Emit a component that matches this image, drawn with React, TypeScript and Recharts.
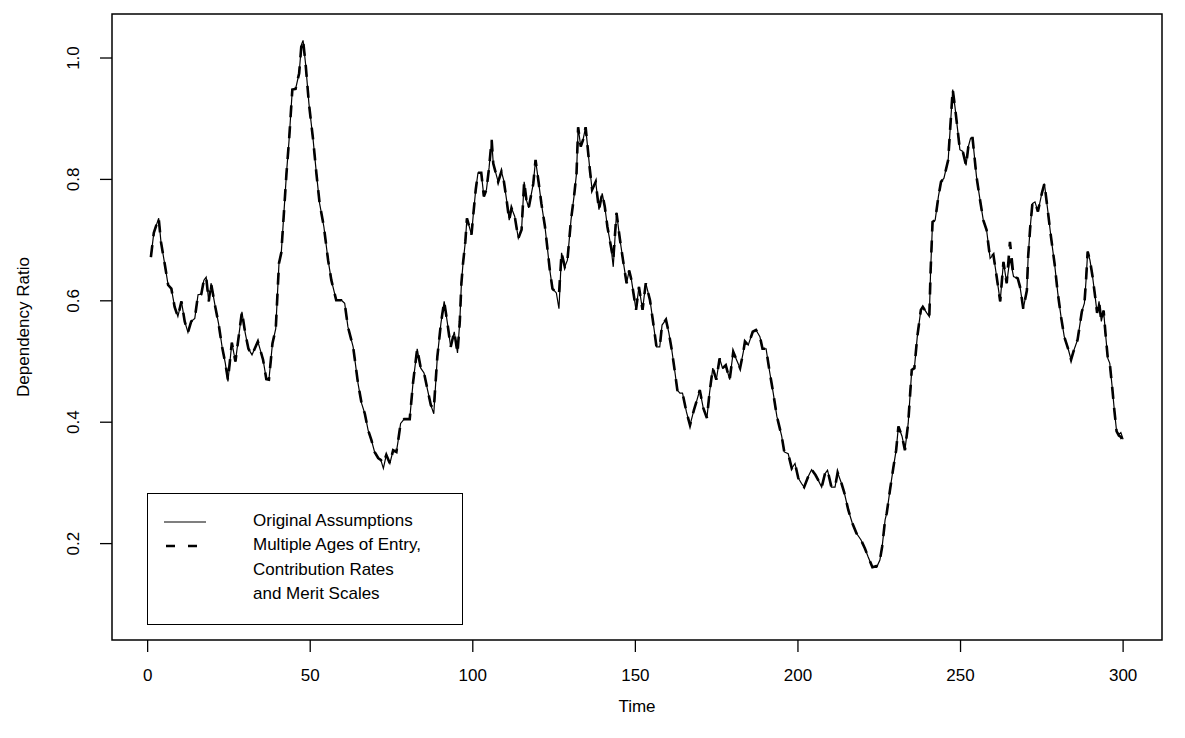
import React from 'react';
import { LineChart, Line, XAxis, YAxis, ReferenceArea } from 'recharts';

const time = [
  1.0, 1.9, 2.7, 3.4, 4.1, 5.4, 6.3, 7.3, 8.3, 9.3, 10.4, 11.4, 12.4, 13.4, 14.5, 15.5, 16.5, 17.3, 18.0, 18.8,
  19.5, 20.8, 21.8, 22.9, 23.9, 24.7, 25.9, 27.0, 28.0, 29.0, 30.0, 31.0, 32.1, 33.9, 35.5, 36.5, 37.3, 38.4, 39.4, 40.4,
  41.1, 41.9, 42.7, 43.5, 44.5, 45.5, 46.6, 47.3, 47.8, 48.6, 49.6, 50.9, 51.9, 52.9, 54.2, 55.5, 56.5, 58.0, 59.6, 60.6,
  61.6, 63.2, 64.7, 65.8, 66.8, 67.8, 68.8, 69.8, 70.9, 71.7, 72.5, 73.4, 74.5, 75.5, 76.5, 77.0, 77.8, 78.9, 80.6, 81.6,
  82.9, 84.0, 85.0, 86.1, 87.1, 88.0, 89.1, 90.2, 91.2, 92.2, 93.2, 94.3, 95.3, 96.0, 96.5, 97.0, 97.7, 98.2, 99.6, 100.1,
  100.9, 101.6, 102.6, 103.4, 104.2, 105.0, 105.8, 106.3, 107.1, 107.8, 108.8, 109.5, 110.4, 111.2, 111.9, 112.9, 114.0, 115.0, 115.8, 116.5,
  117.2, 118.6, 119.3, 120.3, 121.1, 122.2, 123.0, 123.7, 124.5, 125.7, 126.5, 127.3, 128.3, 129.1, 130.2, 131.2, 131.9, 132.4, 133.2, 133.9,
  134.7, 135.3, 136.0, 136.7, 137.8, 138.8, 139.8, 140.6, 141.4, 142.5, 143.2, 144.2, 145.2, 146.2, 147.3, 148.1, 148.8, 150.2, 151.1, 152.2,
  153.2, 154.5, 155.5, 156.5, 157.5, 158.2, 159.4, 160.3, 161.2, 162.2, 162.9, 163.7, 164.5, 165.7, 166.8, 168.0, 168.8, 169.8, 170.9, 172.0,
  172.8, 173.8, 174.9, 175.9, 176.8, 177.8, 179.0, 180.1, 181.1, 182.2, 183.2, 183.7, 184.7, 186.1, 187.1, 188.3, 189.1, 190.2, 191.2, 192.4,
  193.5, 195.0, 195.8, 197.0, 198.1, 199.1, 200.1, 201.1, 201.9, 203.2, 204.2, 205.4, 206.2, 207.3, 208.3, 209.1, 210.3, 211.4, 212.2, 213.4,
  214.2, 215.5, 216.7, 218.0, 219.4, 220.6, 221.6, 222.9, 224.2, 225.2, 225.9, 226.8, 227.3, 228.3, 229.3, 230.2, 230.9, 232.0, 232.9, 233.9,
  235.0, 235.8, 236.7, 237.8, 238.4, 239.6, 240.4, 240.8, 241.4, 242.2, 243.2, 244.0, 244.9, 246.2, 246.8, 247.6, 248.3, 249.1, 249.8, 250.7,
  251.7, 252.4, 253.1, 253.7, 254.9, 256.0, 257.0, 258.0, 259.1, 260.1, 261.1, 262.2, 263.2, 264.2, 265.2, 266.3, 267.6, 268.3, 269.3, 270.4,
  270.8, 271.4, 272.1, 272.9, 273.8, 275.0, 275.8, 276.8, 277.8, 278.9, 279.9, 280.9, 281.9, 283.2, 284.0, 284.7, 286.0, 287.3, 288.1, 288.6,
  289.1, 289.8, 290.6, 291.4, 292.0, 292.6, 293.3, 294.0, 294.6, 295.3, 295.9, 296.6, 297.3, 298.0, 298.7, 299.3, 300.0,
];

const original = [
  0.672, 0.712, 0.725, 0.736, 0.697, 0.656, 0.626, 0.620, 0.590, 0.574, 0.599, 0.566, 0.548, 0.566, 0.571, 0.610, 0.611, 0.634, 0.639, 0.599,
  0.629, 0.590, 0.563, 0.524, 0.497, 0.467, 0.531, 0.500, 0.541, 0.582, 0.547, 0.521, 0.511, 0.533, 0.503, 0.471, 0.470, 0.530, 0.554, 0.662,
  0.679, 0.744, 0.810, 0.865, 0.948, 0.949, 0.975, 1.022, 1.029, 0.989, 0.925, 0.865, 0.810, 0.760, 0.722, 0.667, 0.634, 0.601, 0.601, 0.596,
  0.557, 0.524, 0.464, 0.431, 0.414, 0.387, 0.371, 0.351, 0.341, 0.338, 0.324, 0.346, 0.332, 0.354, 0.351, 0.368, 0.398, 0.405, 0.405, 0.464,
  0.521, 0.489, 0.481, 0.453, 0.428, 0.414, 0.508, 0.563, 0.599, 0.563, 0.524, 0.549, 0.514, 0.566, 0.629, 0.662, 0.697, 0.736, 0.709, 0.739,
  0.783, 0.811, 0.811, 0.772, 0.783, 0.819, 0.865, 0.826, 0.810, 0.796, 0.813, 0.799, 0.766, 0.733, 0.753, 0.739, 0.703, 0.717, 0.796, 0.766,
  0.753, 0.793, 0.832, 0.793, 0.760, 0.722, 0.684, 0.650, 0.620, 0.613, 0.587, 0.679, 0.656, 0.667, 0.733, 0.775, 0.810, 0.886, 0.854, 0.865,
  0.886, 0.854, 0.816, 0.783, 0.796, 0.750, 0.777, 0.755, 0.722, 0.689, 0.656, 0.745, 0.703, 0.667, 0.629, 0.650, 0.634, 0.585, 0.623, 0.585,
  0.629, 0.601, 0.563, 0.524, 0.524, 0.560, 0.569, 0.547, 0.519, 0.481, 0.453, 0.448, 0.448, 0.417, 0.395, 0.420, 0.434, 0.453, 0.423, 0.407,
  0.448, 0.489, 0.470, 0.505, 0.489, 0.494, 0.470, 0.516, 0.503, 0.489, 0.516, 0.533, 0.527, 0.549, 0.552, 0.541, 0.521, 0.521, 0.486, 0.448,
  0.410, 0.377, 0.351, 0.348, 0.324, 0.332, 0.308, 0.299, 0.293, 0.311, 0.322, 0.313, 0.305, 0.293, 0.315, 0.321, 0.293, 0.293, 0.317, 0.299,
  0.285, 0.255, 0.234, 0.217, 0.206, 0.192, 0.178, 0.161, 0.161, 0.173, 0.195, 0.239, 0.250, 0.288, 0.324, 0.354, 0.393, 0.377, 0.354, 0.398,
  0.486, 0.489, 0.541, 0.585, 0.590, 0.580, 0.574, 0.650, 0.730, 0.733, 0.772, 0.796, 0.802, 0.832, 0.882, 0.948, 0.919, 0.882, 0.849, 0.846,
  0.823, 0.854, 0.868, 0.868, 0.805, 0.766, 0.733, 0.717, 0.670, 0.676, 0.640, 0.599, 0.664, 0.629, 0.670, 0.640, 0.637, 0.623, 0.587, 0.617,
  0.673, 0.719, 0.760, 0.763, 0.747, 0.777, 0.793, 0.750, 0.706, 0.662, 0.613, 0.574, 0.541, 0.519, 0.503, 0.516, 0.536, 0.582, 0.596, 0.634,
  0.681, 0.667, 0.640, 0.607, 0.580, 0.599, 0.566, 0.584, 0.545, 0.505, 0.497, 0.460, 0.420, 0.385, 0.380, 0.383, 0.372,
];

const multiple = [
  0.672, 0.712, 0.725, 0.736, 0.697, 0.656, 0.626, 0.620, 0.590, 0.574, 0.599, 0.566, 0.548, 0.566, 0.571, 0.610, 0.611, 0.634, 0.639, 0.599,
  0.629, 0.590, 0.563, 0.524, 0.497, 0.470, 0.531, 0.500, 0.541, 0.582, 0.547, 0.521, 0.511, 0.533, 0.503, 0.471, 0.470, 0.530, 0.554, 0.662,
  0.679, 0.744, 0.810, 0.865, 0.948, 0.949, 0.975, 1.022, 1.029, 0.989, 0.925, 0.865, 0.810, 0.760, 0.722, 0.667, 0.634, 0.601, 0.601, 0.596,
  0.557, 0.524, 0.464, 0.431, 0.414, 0.387, 0.371, 0.351, 0.341, 0.338, 0.332, 0.346, 0.332, 0.354, 0.351, 0.368, 0.398, 0.405, 0.405, 0.464,
  0.521, 0.489, 0.481, 0.453, 0.428, 0.422, 0.508, 0.563, 0.599, 0.563, 0.524, 0.549, 0.514, 0.566, 0.629, 0.662, 0.697, 0.736, 0.709, 0.739,
  0.783, 0.811, 0.811, 0.772, 0.783, 0.819, 0.865, 0.826, 0.810, 0.796, 0.813, 0.799, 0.766, 0.733, 0.753, 0.739, 0.703, 0.717, 0.796, 0.766,
  0.753, 0.793, 0.832, 0.793, 0.760, 0.722, 0.684, 0.650, 0.620, 0.613, 0.610, 0.679, 0.656, 0.667, 0.733, 0.775, 0.810, 0.886, 0.854, 0.865,
  0.886, 0.854, 0.816, 0.783, 0.796, 0.750, 0.777, 0.755, 0.722, 0.689, 0.668, 0.745, 0.703, 0.667, 0.629, 0.650, 0.634, 0.585, 0.623, 0.585,
  0.629, 0.601, 0.563, 0.524, 0.524, 0.560, 0.569, 0.547, 0.519, 0.481, 0.453, 0.448, 0.448, 0.417, 0.395, 0.420, 0.434, 0.453, 0.423, 0.407,
  0.448, 0.489, 0.470, 0.505, 0.489, 0.494, 0.470, 0.516, 0.503, 0.489, 0.516, 0.533, 0.527, 0.549, 0.552, 0.541, 0.521, 0.521, 0.486, 0.448,
  0.410, 0.377, 0.351, 0.348, 0.324, 0.332, 0.308, 0.299, 0.293, 0.311, 0.322, 0.313, 0.305, 0.293, 0.315, 0.321, 0.293, 0.293, 0.317, 0.299,
  0.285, 0.255, 0.234, 0.217, 0.206, 0.192, 0.178, 0.161, 0.163, 0.173, 0.195, 0.239, 0.250, 0.288, 0.324, 0.354, 0.393, 0.377, 0.354, 0.398,
  0.486, 0.489, 0.541, 0.585, 0.590, 0.580, 0.574, 0.650, 0.730, 0.733, 0.772, 0.796, 0.802, 0.832, 0.882, 0.948, 0.919, 0.882, 0.849, 0.846,
  0.823, 0.854, 0.868, 0.868, 0.805, 0.766, 0.733, 0.717, 0.670, 0.676, 0.640, 0.599, 0.664, 0.629, 0.697, 0.640, 0.637, 0.623, 0.587, 0.617,
  0.673, 0.719, 0.760, 0.763, 0.747, 0.777, 0.793, 0.750, 0.706, 0.662, 0.613, 0.574, 0.541, 0.519, 0.503, 0.516, 0.536, 0.582, 0.596, 0.634,
  0.681, 0.667, 0.640, 0.607, 0.580, 0.599, 0.566, 0.584, 0.545, 0.505, 0.497, 0.460, 0.420, 0.385, 0.378, 0.376, 0.367,
];

const xTicks = [0, 50, 100, 150, 200, 250, 300];
const yTicks = [0.2, 0.4, 0.6, 0.8, 1.0];
const xDomain = [-10.96, 311.96];
const yDomain = [0.0412, 1.0725];
const legendLabels = ['Original Assumptions', 'Multiple Ages of Entry,', 'Contribution Rates', 'and Merit Scales'];

const data = time.map((t, i) => ({ t, original: original[i], multiple: multiple[i] }));

const FONT = '"Liberation Sans", Arial, Helvetica, sans-serif';
const FS = 17;

const XTick = (props: any) => {
  const { x, y, payload } = props;
  return (
    <text x={x} y={y + 29} textAnchor="middle" fontSize={FS} fontFamily={FONT} fill="#000">
      {payload.value}
    </text>
  );
};

const YTick = (props: any) => {
  const { x, y, payload } = props;
  const bx = x - 21;
  return (
    <text x={bx} y={y} transform={`rotate(-90 ${bx} ${y})`} textAnchor="middle" fontSize={FS} fontFamily={FONT} fill="#000">
      {Number(payload.value).toFixed(1)}
    </text>
  );
};

const XLabel = (props: any) => {
  const vb = props.viewBox || { x: 104, y: 632, width: 1050, height: 40 };
  return (
    <text x={vb.x + vb.width / 2} y={vb.y + 72} textAnchor="middle" fontSize={FS} fontFamily={FONT} fill="#000">
      Time
    </text>
  );
};

const YLabel = (props: any) => {
  const vb = props.viewBox || { x: 44, y: 6, width: 60, height: 626 };
  const cx = 21;
  const cy = vb.y + vb.height / 2;
  return (
    <text x={cx} y={cy} transform={`rotate(-90 ${cx} ${cy})`} textAnchor="middle" fontSize={FS} fontFamily={FONT} fill="#000">
      Dependency Ratio
    </text>
  );
};

const LegendBox = () => (
  <div
    style={{
      position: 'absolute',
      left: 139,
      top: 485,
      width: 316,
      height: 132,
      boxSizing: 'border-box',
      border: '1.5px solid #000',
      background: '#fff',
      fontFamily: FONT,
      fontSize: FS,
      color: '#000',
    }}
  >
    <svg width={64} height={60} style={{ position: 'absolute', left: 0, top: 0 }}>
      <line x1={16} x2={58} y1={28} y2={28} stroke="#000" strokeWidth={1.2} />
      <line x1={18} x2={58} y1={52} y2={52} stroke="#000" strokeWidth={2.6} strokeDasharray="9 13" />
    </svg>
    {legendLabels.map((label, i) => (
      <div
        key={label}
        style={{ position: 'absolute', left: 105, top: 17 + i * 24.3, lineHeight: '20px', whiteSpace: 'nowrap' }}
      >
        {label}
      </div>
    ))}
  </div>
);

export default function App() {
  return (
    <div style={{ position: 'relative', width: 1169, height: 722, background: '#fff' }}>
      <LineChart
        width={1169}
        height={722}
        data={data}
        margin={{ top: 6, right: 15, left: 44, bottom: 50 }}
        style={{ fontFamily: FONT }}
      >
        <XAxis
          dataKey="t"
          type="number"
          domain={xDomain}
          ticks={xTicks}
          interval={0}
          axisLine={false}
          tickLine={{ stroke: '#000', strokeWidth: 1.3 }}
          tickSize={12}
          tickMargin={0}
          height={40}
          tick={<XTick />}
          label={<XLabel />}
          allowDataOverflow
        />
        <YAxis
          type="number"
          domain={yDomain}
          ticks={yTicks}
          interval={0}
          axisLine={false}
          tickLine={{ stroke: '#000', strokeWidth: 1.3 }}
          tickSize={12}
          tickMargin={0}
          width={60}
          tick={<YTick />}
          label={<YLabel />}
          allowDataOverflow
        />
        <ReferenceArea
          x1={xDomain[0]}
          x2={xDomain[1]}
          y1={yDomain[0]}
          y2={yDomain[1]}
          fill="none"
          fillOpacity={0}
          stroke="#000"
          strokeWidth={1.5}
          ifOverflow="visible"
        />
        <Line
          dataKey="original"
          type="linear"
          dot={false}
          stroke="#000"
          strokeWidth={1.2}
          isAnimationActive={false}
        />
        <Line
          dataKey="multiple"
          type="linear"
          dot={false}
          stroke="#000"
          strokeWidth={2.6}
          strokeDasharray="12 9"
          isAnimationActive={false}
        />
      </LineChart>
      <LegendBox />
    </div>
  );
}
